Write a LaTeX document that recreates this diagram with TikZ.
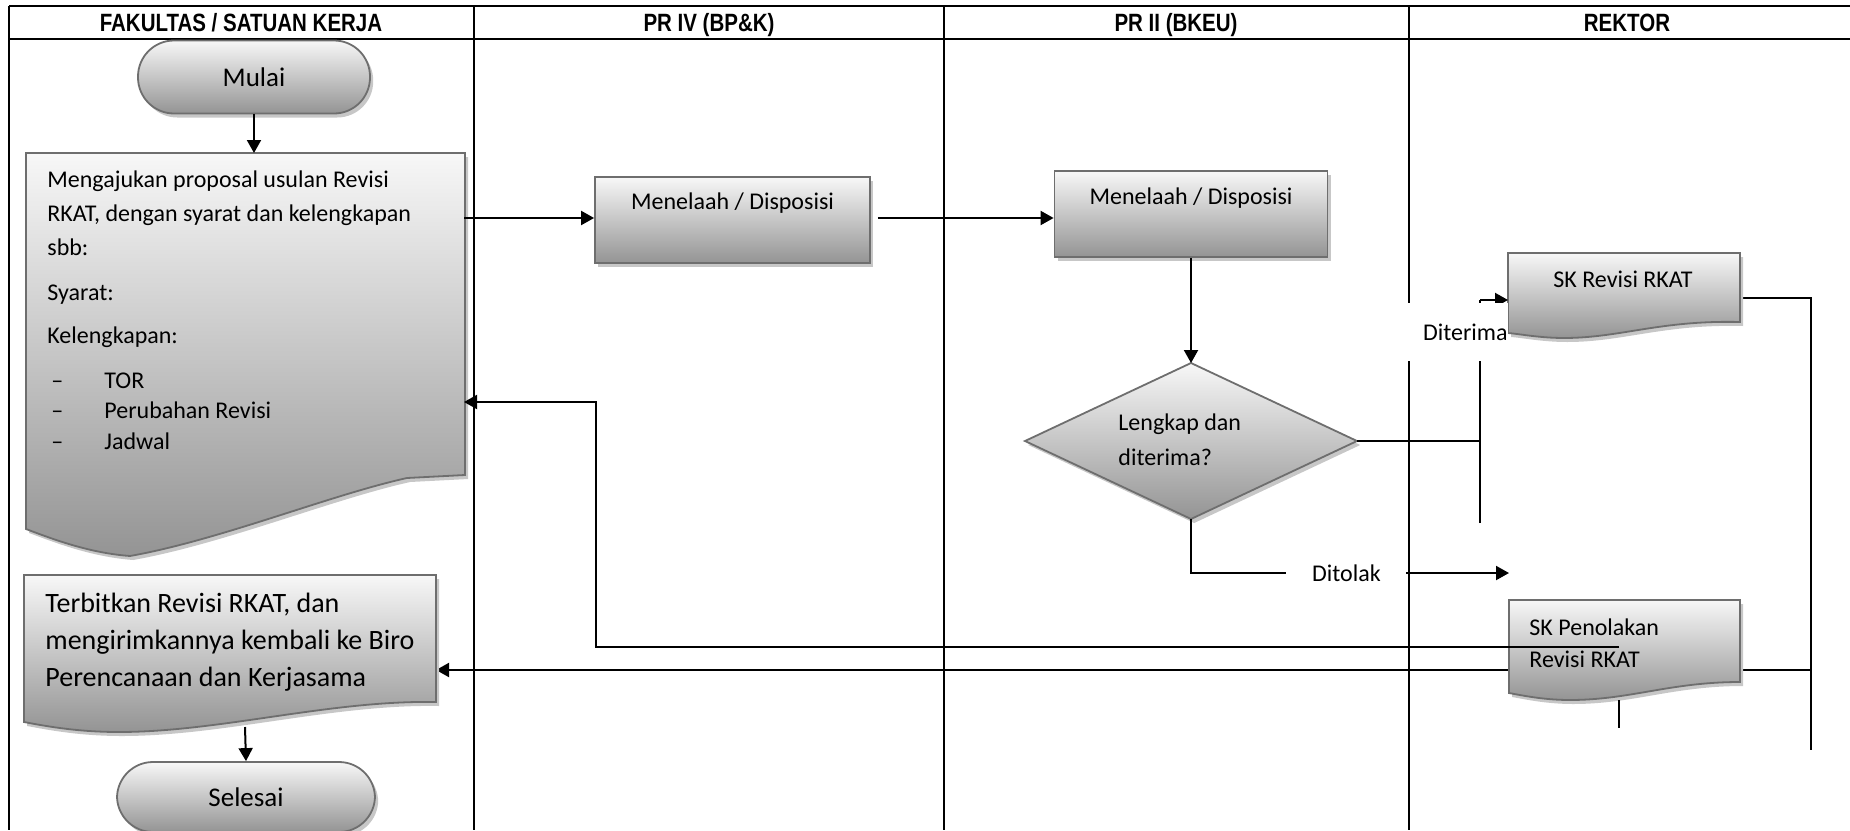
\documentclass[tikz,border=0pt]{standalone}
\usepackage{fontspec}
\usepackage{graphicx}
\setmainfont{Carlito}
\newfontfamily\hdrfont{Liberation Sans}
\usetikzlibrary{arrows.meta,shadows}
\newcommand{\hdrtext}[1]{\scalebox{0.82}[1]{#1}}
\tikzset{
  tbl/.style={line width=0.8pt, draw=black},
  shp/.style={draw=black!57, line width=0.9pt, top color=black!3, bottom color=black!42,
    drop shadow={shadow xshift=1.6pt, shadow yshift=-2pt, fill=black!22, opacity=1}},
  boxst/.style={shp, inner sep=0},
  term/.style={shp, rounded corners=18pt, inner sep=0, font=\fontsize{13.5}{16}\selectfont},
  txt/.style={inner sep=0, font=\fontsize{12}{14}\selectfont},
  bigtxt/.style={inner sep=0, font=\fontsize{14}{16}\selectfont},
  hdr/.style={inner sep=0, anchor=base, font=\hdrfont\bfseries\fontsize{12.5}{14}\selectfont},
  conn/.style={line width=1pt, draw=black},
  arr/.style={conn, -{Triangle[length=6.5pt,width=7pt]}},
  lbl/.style={fill=white, inner xsep=0, inner ysep=0, font=\fontsize{12}{14}\selectfont}
}
\begin{document}
\begin{tikzpicture}[x=0.5pt,y=-0.5pt]
\useasboundingbox (0,0) rectangle (1850,830);
\clip (0,0) rectangle (1850,830);

% ---- table ----
\draw[line width=1.3pt] (9,6) -- (1850,6);
\draw[line width=1pt] (9,39) -- (1850,39);
\draw[tbl] (9,6) -- (9,830);
\foreach \x in {474,944,1409} \draw[tbl] (\x,6) -- (\x,830);
\node[hdr] (h1) at (241,32) {\hdrtext{FAKULTAS / SATUAN KERJA}};
\node[hdr] (h2) at (709,32) {\hdrtext{PR IV (BP\&K)}};
\node[hdr] (h3) at (1176,32) {\hdrtext{PR II (BKEU)}};
\node[hdr] (h4) at (1627,32) {\hdrtext{REKTOR}};

% ---- connection points ----
\coordinate (d1top) at (254,153);
\coordinate (d1R1) at (464,218);
\coordinate (d1R2) at (464,402);
\coordinate (diaN) at (1191,363);
\coordinate (diaE) at (1357,441);
\coordinate (diaS) at (1191,519);
\coordinate (jT) at (1480,300);
\coordinate (jB) at (1480,523);
\coordinate (skrW) at (1508,300);
\coordinate (skrE) at (1740,298);
\coordinate (rtop) at (1811,298);
\coordinate (rbot) at (1811,750);
\coordinate (rmid) at (1811,670);
\coordinate (d2E) at (436,670);
\coordinate (d2B) at (245,727);
\coordinate (tolakEnd) at (1509,573);
\coordinate (skpL) at (1619,647);
\coordinate (skpS1) at (1619,700);
\coordinate (skpS2) at (1619,728);
\coordinate (retX) at (596,647);

% ---- connectors drawn below the shapes ----
\draw[conn] (skrE) -- (rtop) -- (rbot);
\draw[arr] (rmid) -- (d2E);

% ---- shapes ----
\node[term, minimum width=116pt, minimum height=36.5pt] (mulai) at (254,77) {Mulai};

\path[shp] (26,153) -- (465,153) -- (465,475) -- (407,478)
  .. controls (330,495) and (220,540) .. (130,556)
  .. controls (90,553) and (55,540) .. (26,529) -- cycle;
\node[txt, anchor=base west] (d1a) at (47,187) {Mengajukan proposal usulan Revisi};
\node[txt, anchor=base west] (d1b) at (47,221) {RKAT, dengan syarat dan kelengkapan};
\node[txt, anchor=base west] (d1c) at (47,255) {sbb:};
\node[txt, anchor=base west] (d1d) at (47,300) {Syarat:};
\node[txt, anchor=base west] (d1e) at (47,343) {Kelengkapan:};
\node[txt, anchor=base west] (d1f) at (51,388) {--};
\node[txt, anchor=base west] (d1g) at (104,388) {TOR};
\node[txt, anchor=base west] (d1h) at (51,418) {--};
\node[txt, anchor=base west] (d1i) at (104,418) {Perubahan Revisi};
\node[txt, anchor=base west] (d1j) at (51,449) {--};
\node[txt, anchor=base west] (d1k) at (104,449) {Jadwal};

\node[boxst, minimum width=137.5pt, minimum height=43pt] (p4) at (732.5,220) {};
\node[txt, anchor=base] (p4t) at (732.5,209) {Menelaah / Disposisi};

\node[boxst, minimum width=136.5pt, minimum height=43pt] (p2) at (1191,214) {};
\node[txt, anchor=base] (p2t) at (1191,204) {Menelaah / Disposisi};

\path[shp] (1025,441) -- (diaN) -- (diaE) -- (diaS) -- cycle;
\node[txt, anchor=base west] (diat1) at (1118,430) {Lengkap dan};
\node[txt, anchor=base west] (diat2) at (1118,465) {diterima?};

\path[shp] (1508,253) -- (1740,253) -- (1740,322)
  .. controls (1660,320) and (1620,338) .. (1564,338)
  .. controls (1540,338) and (1520,334) .. (1508,333) -- cycle;
\node[txt, anchor=base] (skrt) at (1623,287) {SK Revisi RKAT};

\path[shp] (1509,600) -- (1740,600) -- (1740,682)
  .. controls (1670,682) and (1630,700) .. (1570,700)
  .. controls (1545,700) and (1525,696) .. (1509,693) -- cycle;
\node[txt, anchor=base west] (skp1) at (1529,635) {SK Penolakan};
\node[txt, anchor=base west] (skp2) at (1529,667) {Revisi RKAT};

\path[shp] (24,575) -- (436,575) -- (436,702)
  .. controls (330,700) and (220,732) .. (119,732)
  .. controls (80,732) and (50,727) .. (24,722) -- cycle;
\node[bigtxt, anchor=base west] (d2a) at (45,612) {Terbitkan Revisi RKAT, dan};
\node[bigtxt, anchor=base west] (d2b) at (45,649) {mengirimkannya kembali ke Biro};
\node[bigtxt, anchor=base west] (d2c) at (45,686) {Perencanaan dan Kerjasama};

\node[term, minimum width=129pt, minimum height=35pt] (selesai) at (246,797) {Selesai};

% ---- connectors ----
\draw[arr] (mulai.south) -- (d1top);
\draw[arr] (d1R1) -- (p4.west |- d1R1);
\draw[arr] ([xshift=3.5pt]p4.east |- d1R1) -- (p2.west |- d1R1);
\draw[arr] (p2.south) -- (diaN);
\draw[conn] (diaE) -- (diaE -| jT);
\draw[conn] (jB) -- (jT);
\draw[arr] (jT) -- (skrW);
\draw[arr] (diaS) |- (tolakEnd);
\draw[arr] (skpL) -- (retX) -- (retX |- d1R2) -- (d1R2);
\draw[conn] (skpS1) -- (skpS2);
\draw[arr] (d2B) -- (selesai.north);

% ---- labels ----
\node[lbl, anchor=east, text width=52pt, align=right, minimum height=29pt] (lblA) at (1508,332) {Diterima};
\node[lbl, anchor=west, text width=60pt, align=center, minimum height=14pt] (lblB) at (1286,573) {Ditolak};
\end{tikzpicture}
\end{document}
